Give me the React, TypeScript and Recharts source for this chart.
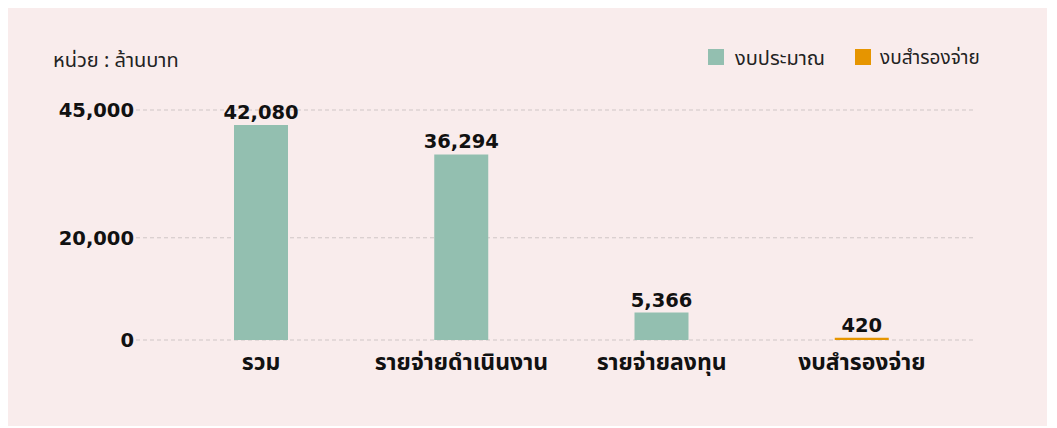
import { BarChart, Bar, XAxis, YAxis, CartesianGrid, LabelList } from 'recharts';

const categories = ['รวม', 'รายจ่ายดำเนินงาน', 'รายจ่ายลงทุน', 'งบสำรองจ่าย'];
const budget = [42080, 36294, 5366, null];
const reserve = [null, null, null, 420];
const yTicks = [0, 20000, 45000];

const data = categories.map((name, i) => ({ name, budget: budget[i], reserve: reserve[i] }));

const GREEN = '#93bfb0';
const ORANGE = '#e69500';
const thai = '"Noto Sans Thai", Tahoma, sans-serif';
const num = '"DejaVu Sans", Verdana, sans-serif';

const fmt = (v: any) => (v ? Number(v).toLocaleString('en-US') : '');
const labelStyle = { fill: '#111', fontFamily: num, fontSize: 19.5, fontWeight: 700 };

export default function App() {
  return (
    <div style={{ position: 'relative', width: 1039, height: 418, background: '#f9ecec' }}>
      <div style={{ position: 'absolute', left: 45, top: 38, fontFamily: thai, fontSize: 20, color: '#222', whiteSpace: 'nowrap' }}>
        หน่วย : ล้านบาท
      </div>
      <span style={{ position: 'absolute', left: 700, top: 41, width: 16, height: 16, background: GREEN }} />
      <span style={{ position: 'absolute', left: 727, top: 36, fontFamily: thai, fontSize: 20, color: '#222', whiteSpace: 'nowrap' }}>งบประมาณ</span>
      <span style={{ position: 'absolute', left: 847, top: 41, width: 16, height: 16, background: ORANGE }} />
      <span style={{ position: 'absolute', left: 872, top: 36, fontFamily: thai, fontSize: 19, color: '#222', whiteSpace: 'nowrap' }}>งบสำรองจ่าย</span>
      <BarChart
        width={1039}
        height={418}
        data={data}
        margin={{ top: 102, right: 72, left: 0, bottom: 46 }}
        style={{ position: 'absolute', left: 0, top: 0 }}
      >
        <CartesianGrid vertical={false} stroke="#cfc6c6" strokeDasharray="4 3" />
        <XAxis
          dataKey="name"
          axisLine={false}
          tickLine={false}
          tickSize={0}
          tickMargin={14}
          height={40}
          padding={{ left: 25, right: 13 }}
          tick={{ fill: '#111', fontFamily: thai, fontSize: 23, fontWeight: 700 }}
          interval={0}
        />
        <YAxis
          width={128}
          domain={[0, 45000]}
          ticks={yTicks}
          axisLine={false}
          tickLine={false}
          tickSize={0}
          tickMargin={2}
          tickFormatter={(v) => Number(v).toLocaleString('en-US')}
          tick={{ fill: '#111', fontFamily: num, fontSize: 19.5, fontWeight: 700 }}
        />
        <Bar dataKey="budget" stackId="a" fill={GREEN} barSize={54} isAnimationActive={false}>
          <LabelList dataKey="budget" position="top" offset={6} formatter={fmt} style={labelStyle} />
        </Bar>
        <Bar dataKey="reserve" stackId="a" fill={ORANGE} barSize={54} isAnimationActive={false}>
          <LabelList dataKey="reserve" position="top" offset={6} formatter={fmt} style={labelStyle} />
        </Bar>
      </BarChart>
    </div>
  );
}
